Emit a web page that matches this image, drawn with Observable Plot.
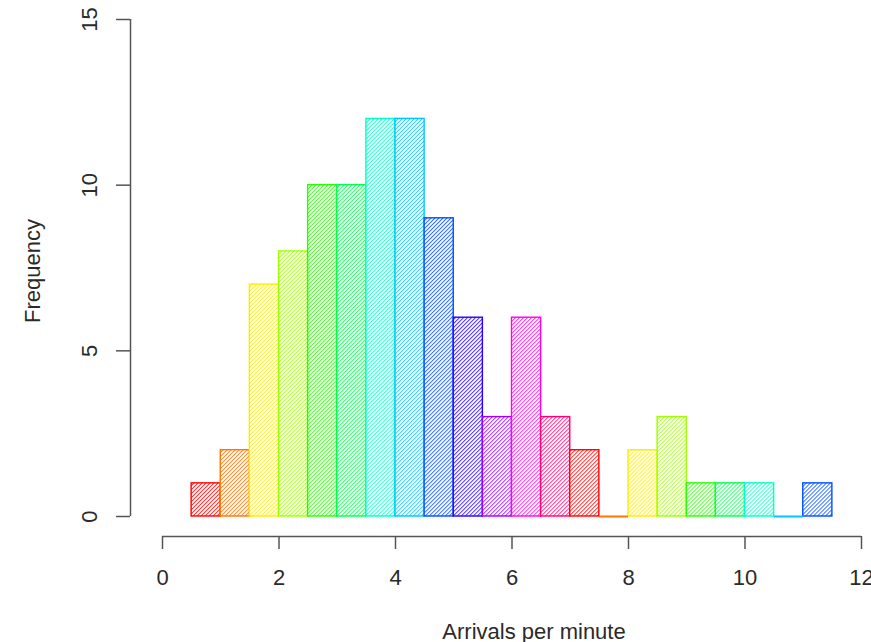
<!DOCTYPE html>
<html>
<head>
<meta charset="utf-8">
<script src="https://cdn.jsdelivr.net/npm/d3@7"></script>
<script src="https://cdn.jsdelivr.net/npm/@observablehq/plot@0.6"></script>
<style>
  html, body { margin: 0; padding: 0; background: #fff; }
  #chart svg { display: block; }
</style>
</head>
<body>
<div id="chart"></div>
<script>
// ---- data ----
const binEdges = [0.5, 1, 1.5, 2, 2.5, 3, 3.5, 4, 4.5, 5, 5.5, 6, 6.5, 7, 7.5, 8, 8.5, 9, 9.5, 10, 10.5, 11, 11.5];
const counts   = [1, 2, 7, 8, 10, 10, 12, 12, 9, 6, 3, 6, 3, 2, 0, 2, 3, 1, 1, 1, 0, 1];
const xTicks = [0, 2, 4, 6, 8, 10, 12];
const yTicks = [0, 5, 10, 15];
const xLabel = "Arrivals per minute";
const yLabel = "Frequency";
// rainbow palette (recycled across bins)
const palette = ["#FF0000", "#FF7600", "#FFEB00", "#9DFF00", "#27FF00", "#00FF4E", "#00FFC4",
                 "#00C4FF", "#004EFF", "#2700FF", "#9D00FF", "#FF00EB", "#FF0076"];

const bins = counts.map((c, i) => ({
  x1: binEdges[i],
  x2: binEdges[i + 1],
  count: c,
  color: palette[i % palette.length],
  pat: `url(#hatch${i % palette.length})`
}));

const font = "'Liberation Sans', Arial, Helvetica, sans-serif";
const axisColor = "#555";
const textColor = "#2a2a2a";

const plot = Plot.plot({
  width: 871,
  height: 642,
  marginTop: 19,
  marginLeft: 130,
  marginRight: 10,
  marginBottom: 106,
  style: { fontFamily: font, fontSize: "22px", background: "#fff", color: textColor },
  x: { domain: [xTicks[0], xTicks[xTicks.length - 1]], insetLeft: 32, axis: null },
  y: { domain: [yTicks[0], yTicks[yTicks.length - 1]], insetBottom: 20, axis: null },
  color: { type: "identity" },
  marks: [
    Plot.rectY(bins, {
      filter: d => d.count > 0,
      x1: "x1", x2: "x2", y: "count",
      fill: "pat", stroke: "color", strokeWidth: 1.4
    }),
    Plot.ruleY(bins, {
      filter: d => d.count === 0,
      x1: "x1", x2: "x2", y: 0,
      stroke: "color", strokeWidth: 2
    }),
    // x axis
    Plot.ruleY([0], { x1: xTicks[0], x2: xTicks[xTicks.length - 1], dy: 20, stroke: axisColor, strokeWidth: 1.5 }),
    Plot.axisX(xTicks, {
      anchor: "bottom", tickSize: 13, tickPadding: 20,
      stroke: axisColor, strokeWidth: 1.5, fill: textColor, fontSize: 22, label: null
    }),
    // y axis
    Plot.ruleX([0], { y1: yTicks[0], y2: yTicks[yTicks.length - 1], dx: -32, stroke: axisColor, strokeWidth: 1.5 }),
    Plot.axisY(yTicks, {
      anchor: "left", tickSize: 14, stroke: axisColor, strokeWidth: 1.5, fill: "none", label: null
    }),
    Plot.text(yTicks, {
      y: d => d, text: d => String(d), frameAnchor: "left", dx: -41,
      rotate: -90, textAnchor: "middle", lineAnchor: "middle", fontSize: 22, fill: textColor
    }),
    // axis titles
    Plot.text([xLabel], {
      text: d => d, frameAnchor: "bottom", dx: 38, dy: 95,
      textAnchor: "middle", lineAnchor: "middle", fontSize: 22, fill: textColor
    }),
    Plot.text([yLabel], {
      text: d => d, frameAnchor: "left", dx: -98, dy: -7,
      rotate: -90, textAnchor: "middle", lineAnchor: "middle", fontSize: 22, fill: textColor
    })
  ]
});

// hatch patterns (45° lines) for the bars
const ns = "http://www.w3.org/2000/svg";
const defs = document.createElementNS(ns, "defs");
palette.forEach((c, i) => {
  const p = document.createElementNS(ns, "pattern");
  p.setAttribute("id", `hatch${i}`);
  p.setAttribute("patternUnits", "userSpaceOnUse");
  p.setAttribute("width", 2.83);
  p.setAttribute("height", 10);
  p.setAttribute("patternTransform", "rotate(45)");
  const bg = document.createElementNS(ns, "rect");
  bg.setAttribute("width", 2.83);
  bg.setAttribute("height", 10);
  bg.setAttribute("fill", "#ffffff");
  p.appendChild(bg);
  const line = document.createElementNS(ns, "rect");
  line.setAttribute("x", 0);
  line.setAttribute("width", 1.0);
  line.setAttribute("height", 10);
  line.setAttribute("fill", c);
  line.setAttribute("fill-opacity", 0.8);
  p.appendChild(line);
  defs.appendChild(p);
});
plot.insertBefore(defs, plot.firstChild);

document.getElementById("chart").appendChild(plot);
</script>
</body>
</html>
